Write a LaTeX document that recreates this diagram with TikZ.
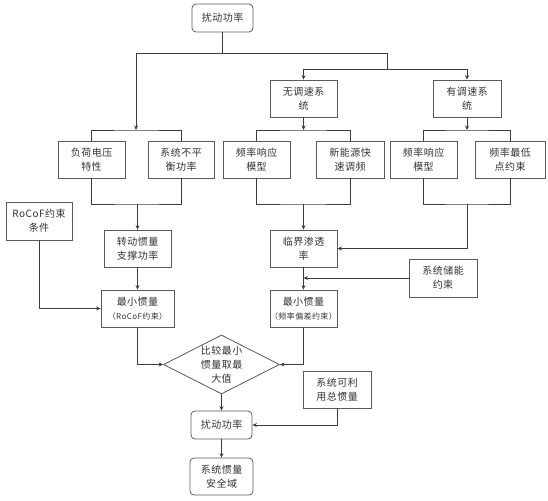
\documentclass[tikz,border=0pt]{standalone}
\usepackage{fontspec}
\setmainfont{Noto Sans CJK SC}[LetterSpace=5]
\usepackage{xcolor}
\usepackage{tikz}
\usetikzlibrary{positioning, arrows.meta, shapes.geometric}

\definecolor{linegray}{HTML}{3C3C3C}
\definecolor{boxgray}{HTML}{5A5A5A}
\definecolor{textgray}{HTML}{333333}
\newcommand{\subnote}[1]{{\fontsize{8}{10}\selectfont #1}}

\begin{document}
\begin{tikzpicture}[
    x=1pt, y=-1pt,
    >={Stealth[length=4.5pt, width=4pt]},
    font=\fontsize{10}{14}\selectfont,
    stepbox/.style={rectangle, draw=boxgray, line width=0.8pt, fill=white, minimum width=67pt, minimum height=37pt, inner sep=0pt, align=center, text=textgray},
    roundbox/.style={stepbox, rounded corners=4pt, minimum width=61pt},
    decision/.style={diamond, draw=boxgray, line width=0.8pt, fill=white, aspect=2, minimum width=115pt, minimum height=59pt, inner sep=0pt, align=center, text=textgray},
    flow/.style={->, line width=0.8pt, linegray},
    link/.style={line width=0.8pt, linegray},
]
    \useasboundingbox (0,0) rectangle (548,500);

    % ===== TOP: disturbance and system split =====
    \node[roundbox, minimum height=28pt] (dist) at (222.5,18) {扰动功率};
    \node[stepbox] (nogov) at (303.5,98.5) {无调速系\\统};
    \node[stepbox, minimum width=68pt] (gov) at (467,98.5) {有调速系\\统};

    % Second row
    \node[stepbox] (load) at (91.5,159.5) {负荷电压\\特性};
    \node[stepbox, minimum width=66pt] (unbal) at (181,159.5) {系统不平\\衡功率};
    \node[stepbox] (frmA) at (256.5,159.5) {频率响应\\模型};
    \node[stepbox, minimum width=68pt] (newen) at (350,159.5) {新能源快\\速调频};
    \node[stepbox] (frmB) at (423.5,159.5) {频率响应\\模型};
    \node[stepbox, minimum width=70pt] (fnadir) at (510,159.5) {频率最低\\点约束};

    % Split points
    \coordinate (splitA) at (222.5,53);
    \coordinate (splitB) at (387,69);
    \coordinate (busL) at (136,130);
    \coordinate (busM) at (303.5,130);
    \coordinate (busR) at (467,130);

    \draw[link] (dist) -- (splitA);
    \draw[flow] (splitA) -| (busL);
    \draw[link] (splitA) -| (splitB);
    \draw[flow] (splitB) -| (nogov);
    \draw[flow] (splitB) -| (gov);
    \draw[link] (load.north) |- (busL) -| (unbal.north);
    \draw[flow] (nogov) -- (busM);
    \draw[link] (frmA.north) |- (busM) -| (newen.north);
    \draw[flow] (gov) -- (busR);
    \draw[link] (frmB.north) |- (busR) -| (fnadir.north);

    % ===== MIDDLE: inertia requirements =====
    \node[stepbox, minimum width=66pt, minimum height=38pt] (rocof) at (39,221) {RoCoF约束\\条件};
    \node[stepbox] (rotor) at (137.5,248.5) {转动惯量\\支撑功率};
    \node[stepbox] (crit) at (303.5,248.5) {临界渗透\\率};
    \node[stepbox, minimum width=68pt, minimum height=38pt] (store) at (443,278) {系统储能\\约束};
    \node[stepbox, minimum width=73pt] (minR) at (137.5,308.5) {最小惯量\\\subnote{（RoCoF约束）}};
    \node[stepbox] (minF) at (303.5,308.5) {最小惯量\\\subnote{（频率偏差约束）}};

    \coordinate (mergeL) at (137.5,204);
    \coordinate (mergeM) at (303.5,204);
    \coordinate (mergeR) at (467,204);
    \coordinate (storeIn) at (303.5,278);

    \draw[link] (load.south) |- (mergeL) -| (unbal.south);
    \draw[flow] (mergeL) -- (rotor);
    \draw[link] (frmA.south) |- (mergeM) -| (newen.south);
    \draw[flow] (mergeM) -- (crit);
    \draw[link] (frmB.south) |- (mergeR) -| (fnadir.south);
    \draw[flow] (mergeR) |- (crit.east);
    \draw[flow] (rotor) -- (minR);
    \draw[flow] (rocof.south) |- (minR.west);
    \draw[flow] (crit) -- (minF);
    \draw[flow] (store.west) -- (storeIn);

    % ===== BOTTOM: comparison and safety domain =====
    \node[decision] (cmp) at (221.5,364.5) {比较最小\\惯量取最\\大值};
    \node[stepbox, minimum width=68pt] (avail) at (337,389.5) {系统可利\\用总惯量};
    \node[roundbox, minimum height=28pt] (distB) at (221.5,425) {扰动功率};
    \node[roundbox, minimum width=63pt] (safe) at (221.5,476.5) {系统惯量\\安全域};

    \draw[flow] (minR.south) |- (cmp.west);
    \draw[flow] (minF.south) |- (cmp.east);
    \draw[flow] (cmp) -- (distB);
    \draw[flow] (avail.south) |- (distB.east);
    \draw[flow] (distB) -- (safe);

\end{tikzpicture}
\end{document}
